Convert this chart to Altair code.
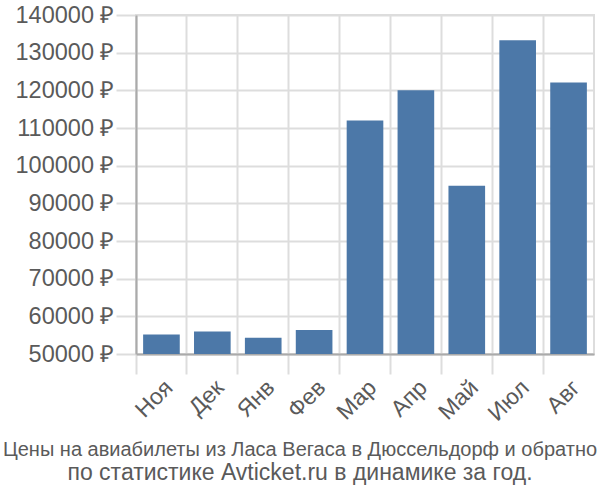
import altair as alt
import pandas as pd

months = ["Ноя", "Дек", "Янв", "Фев", "Мар", "Апр", "Май", "Июл", "Авг"]
prices = [55200, 56000, 54300, 56400, 112000, 120000, 94700, 133300, 122100]
y_ticks = [50000, 60000, 70000, 80000, 90000, 100000, 110000, 120000, 130000, 140000]
title_line1 = "Цены на авиабилеты из Ласа Вегаса в Дюссельдорф и обратно"
title_line2 = "по статистике Avticket.ru в динамике за год."

df = pd.DataFrame({"month": months, "price": prices})

chart = alt.Chart(df).mark_bar(color="#4c78a8", width=alt.RelativeBandSize(0.72), clip=True).encode(
    x=alt.X(
        "month:N", sort=months,
        scale=alt.Scale(paddingInner=0, paddingOuter=0),
        axis=alt.Axis(
            title=None, labelAngle=-45, labelFontSize=23, labelColor="#5a5a5a",
            grid=True, gridColor="#dddddd", gridWidth=2, bandPosition=0,
            tickSize=20, tickColor="#dddddd", tickWidth=2,
            domainColor="#aaaaaa", domainWidth=2, labelPadding=2,
        ),
    ),
    y=alt.Y(
        "price:Q",
        scale=alt.Scale(domain=[50000, 140000], zero=False, nice=False),
        axis=alt.Axis(
            title=None, values=y_ticks, labelExpr="format(datum.value, 'd') + ' ₽'",
            labelFontSize=23.5, labelColor="#5a5a5a", labelPadding=2,
            grid=True, gridColor="#dddddd", gridWidth=2,
            tickSize=20, tickColor="#dddddd", tickWidth=2,
            domainColor="#aaaaaa", domainWidth=2,
        ),
    ),
).properties(
    width=458, height=339,
    autosize="none",
    padding={"left": 136, "top": 15, "right": 6, "bottom": 146},
    title=alt.TitleParams(
        text=title_line1, subtitle=title_line2,
        orient="bottom", anchor="middle", dx=-65, offset=15,
        fontSize=20, color="#5a5a5a", fontWeight="normal",
        subtitleFontSize=23, subtitleColor="#5a5a5a", subtitlePadding=2,
        font="Liberation Sans", subtitleFont="Liberation Sans",
    ),
).configure(font="Liberation Sans").configure_view(stroke="#dddddd", strokeWidth=2)

chart.save("out.html", embed_options={"renderer": "svg", "actions": False})
